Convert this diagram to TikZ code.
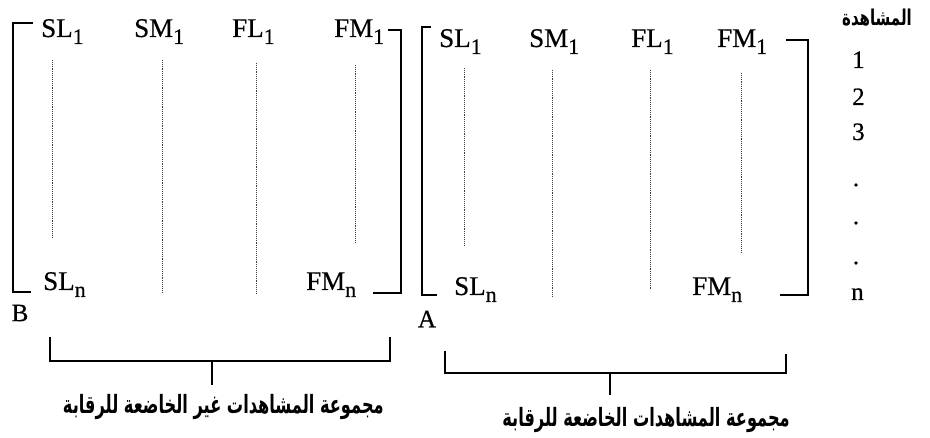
\documentclass[tikz,border=0pt]{standalone}
\usepackage{fontspec}
\setmainfont{Liberation Serif}[FakeBold=0.5]
\newfontfamily\arabicfont[Script=Arabic]{DejaVu Sans}
\TeXXeTstate=1
\newcommand{\lbl}[2]{#1\raisebox{-7pt}{\fontsize{22}{22}\selectfont #2}}
\newcommand{\artext}[1]{\scalebox{0.9}[1.4]{\beginR #1\endR}}
\begin{document}
\begin{tikzpicture}[x=1pt,y=-1pt,
  lab/.style={font=\fontsize{27}{29}\selectfont, inner sep=0pt, anchor=base west},
  num/.style={font=\fontsize{25}{27}\selectfont, inner sep=0pt, anchor=base west},
  brk/.style={line width=2.7pt, line join=miter},
  sbrk/.style={line width=2.5pt, line join=miter},
  dotl/.style={gray!50!black, line width=0.75pt, dash pattern=on 0.9pt off 1.0pt},
  ar/.style={font=\arabicfont\bfseries\fontsize{18}{22}\selectfont, inner sep=0pt},
  pt/.style={circle, fill=black, inner sep=0pt, minimum size=3.6pt}]
\useasboundingbox (0,0) rectangle (930,438);
% ---- left box B ----
\node[lab] (bsl1) at (41,37) {\lbl{SL}{1}};
\node[lab] (bsm1) at (134,37) {\lbl{SM}{1}};
\node[lab] (bfl1) at (232,37) {\lbl{FL}{1}};
\node[lab] (bfm1) at (334,37) {\lbl{FM}{1}};
\node[lab] (bsln) at (43,290) {\lbl{SL}{n}};
\node[lab] (bfmn) at (306,290) {\lbl{FM}{n}};
\node[num, anchor=center] (lb) at (20,313) {B};
\draw[brk] (33,23) -- (13,23) -- (13,292) -- (31,292);
\draw[brk] (388,30) -- (401,30) -- (401,293) -- (373,293);
\coordinate (bd1a) at (52,60);  \coordinate (bd1b) at (52,237);
\coordinate (bd2a) at (162,60); \coordinate (bd2b) at (162,292);
\coordinate (bd3a) at (256,63); \coordinate (bd3b) at (256,293);
\coordinate (bd4a) at (355,65); \coordinate (bd4b) at (355,243);
\draw[dotl] (bd1a) -- (bd1b);
\draw[dotl] (bd2a) -- (bd2b);
\draw[dotl] (bd3a) -- (bd3b);
\draw[dotl] (bd4a) -- (bd4b);
% ---- right box A ----
\node[lab] (asl1) at (439,47) {\lbl{SL}{1}};
\node[lab] (asm1) at (529,47) {\lbl{SM}{1}};
\node[lab] (afl1) at (631,47) {\lbl{FL}{1}};
\node[lab] (afm1) at (717,47) {\lbl{FM}{1}};
\node[lab] (asln) at (454,295) {\lbl{SL}{n}};
\node[lab] (afmn) at (692,295) {\lbl{FM}{n}};
\node[num, anchor=center] (la) at (427,319) {A};
\draw[brk] (431,27) -- (422,27) -- (422,295) -- (437,295);
\draw[brk] (786,40) -- (808,40) -- (808,295) -- (780,295);
\coordinate (ad1a) at (464,68);  \coordinate (ad1b) at (464,245);
\coordinate (ad2a) at (552,70);  \coordinate (ad2b) at (552,297);
\coordinate (ad3a) at (650,70);  \coordinate (ad3b) at (650,290);
\coordinate (ad4a) at (741,73);  \coordinate (ad4b) at (741,252);
\draw[dotl] (ad1a) -- (ad1b);
\draw[dotl] (ad2a) -- (ad2b);
\draw[dotl] (ad3a) -- (ad3b);
\draw[dotl] (ad4a) -- (ad4b);
% ---- observation column ----
\node[ar, font=\arabicfont\bfseries\fontsize{15}{18}\selectfont] (obs) at (877,18) {\scalebox{1}[1.45]{\beginR المشاهدة\endR}};
\node[num] (o1) at (852,68) {1};
\node[num] (o2) at (852,105) {2};
\node[num] (o3) at (852,140) {3};
\node[pt] (p1) at (856,185) {};
\node[pt] (p2) at (856,223) {};
\node[pt] (p3) at (856,263) {};
\node[num] (on) at (851,300) {n};
% ---- bottom brackets ----
\coordinate (lt) at (212,361);
\coordinate (ltb) at (212,385);
\draw[sbrk] (50,337) -- (50,361) -- (390,361) -- (390,337);
\draw[sbrk] (lt) -- (ltb);
\node[ar, anchor=east] (ltxt) at (384,407) {\artext{مجموعة المشاهدات غير الخاضعة للرقابة}};
\coordinate (rt) at (610,373);
\coordinate (rtb) at (610,395);
\draw[sbrk] (445,351) -- (445,373) -- (786,373) -- (786,354);
\draw[sbrk] (rt) -- (rtb);
\node[ar, anchor=east] (rtxt) at (790,420) {\artext{مجموعة المشاهدات الخاضعة للرقابة}};
\end{tikzpicture}
\end{document}
